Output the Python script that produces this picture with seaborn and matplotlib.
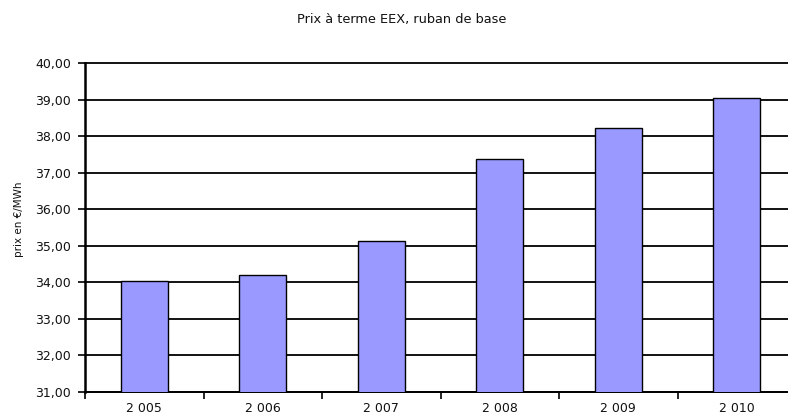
import matplotlib
matplotlib.use("Agg")
import matplotlib.pyplot as plt
import seaborn as sns
import pandas as pd
from matplotlib.ticker import FuncFormatter, FixedLocator

years = ["2 005", "2 006", "2 007", "2 008", "2 009", "2 010"]
prices = [34.05, 34.20, 35.13, 37.37, 38.21, 39.05]
title = "Prix à terme EEX, ruban de base"
ylabel = "prix en €/MWh"

sns.set_theme(style="white")
plt.rcParams['font.family'] = ['DejaVu Sans']

df = pd.DataFrame({"year": years, "price": prices})

fig = plt.figure(figsize=(7.88, 4.19), dpi=100)
W, H = 788, 419
left, right, top, bottom = 85, 796, 63, 392
ax = fig.add_axes([left / W, 1 - bottom / H, (right - left) / W, (bottom - top) / H])

sns.barplot(data=df, x="year", y="price", color="#9999FF", saturation=1,
            width=0.4, edgecolor="black", linewidth=1.0, ax=ax, zorder=3)

ax.set_xlim(-0.5, 5.5)
ax.set_ylim(31, 40)
ax.set_yticks(range(31, 41))
ax.yaxis.set_major_formatter(FuncFormatter(lambda v, p: f"{v:.2f}".replace(".", ",")))
ax.grid(axis="y", color="black", linewidth=1.3, zorder=0)
ax.grid(axis="x", visible=False)
ax.set_axisbelow(True)
for gl in ax.get_ygridlines():
    gl.set_clip_on(False)

for s in ["top", "right"]:
    ax.spines[s].set_visible(False)
ax.spines["left"].set_color("black")
ax.spines["left"].set_linewidth(1.8)
ax.spines["bottom"].set_color("black")
ax.spines["bottom"].set_linewidth(1.3)

ax.tick_params(axis="y", which="major", direction="out", length=5, width=1.2,
               color="black", labelsize=9, labelcolor="#111111", pad=5, left=True)
ax.tick_params(axis="x", which="major", length=0, labelsize=9, labelcolor="#111111", pad=7)
ax.xaxis.set_minor_locator(FixedLocator([i - 0.5 for i in range(7)]))
ax.tick_params(axis="x", which="minor", direction="out", length=5, width=1.2,
               color="black", bottom=True)

ax.set_xlabel("")
ax.set_ylabel(ylabel, fontsize=7.5, color="#111111")
ax.yaxis.set_label_coords((24 - left) / (right - left), (bottom - 219) / (bottom - top))
fig.text(402 / W, 1 - 19 / H, title, ha="center", va="center",
         fontsize=9.3, color="#111111")

fig.savefig("out.png", dpi=100)
